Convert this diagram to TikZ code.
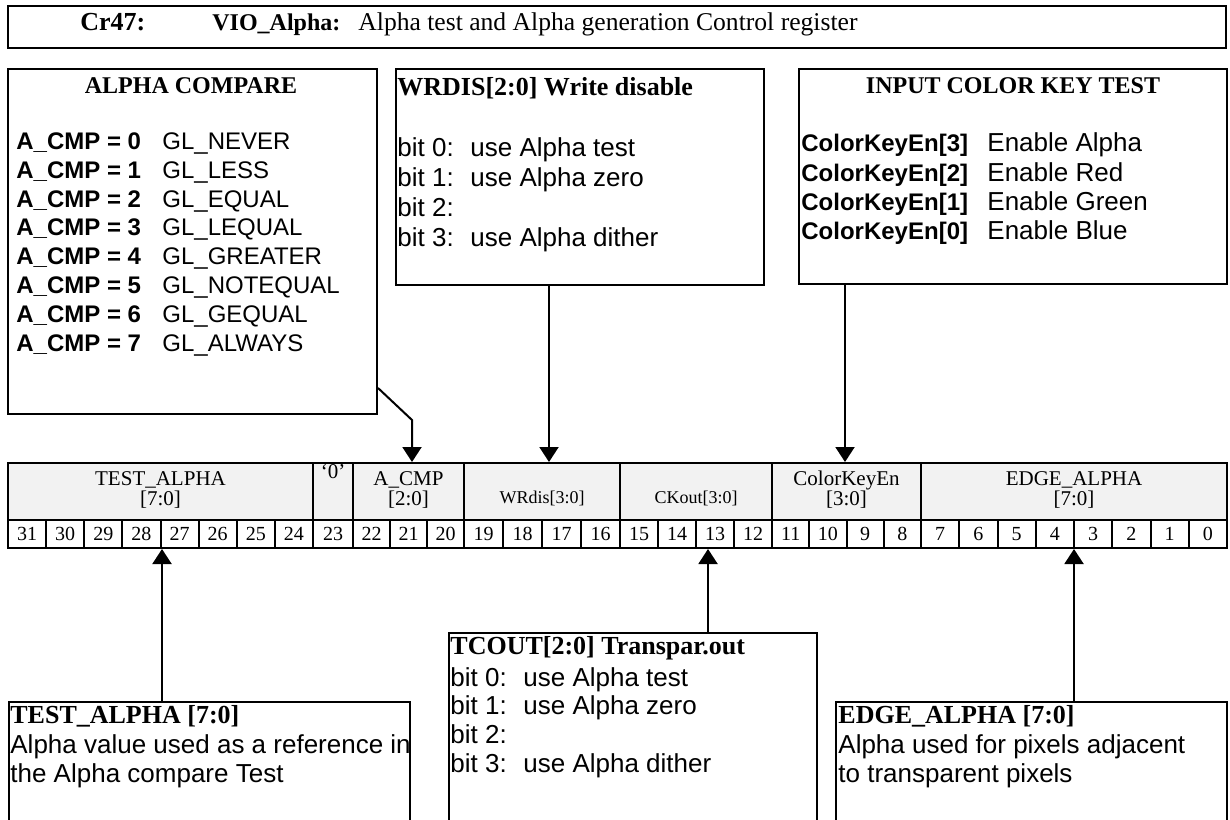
\documentclass[tikz,border=0pt]{standalone}
\usepackage{fontspec}
\setmainfont{Liberation Serif}
\newfontfamily\arialfont{Liberation Sans}
\usetikzlibrary{arrows.meta}
\definecolor{fieldgray}{RGB}{242,242,242}
\tikzset{
    box/.style={draw, line width=1pt, anchor=north west, inner sep=0pt},
    field/.style={box, fill=fieldgray, minimum height=28.5pt},
    bitcell/.style={box, minimum height=14pt, font=\fontsize{10}{12}\selectfont},
    txt/.style={anchor=base west, inner sep=0pt},
    ctxt/.style={anchor=base, inner sep=0pt},
    tbtwelve/.style={font=\bfseries\fontsize{12}{14}\selectfont},
    tbthirteen/.style={font=\bfseries\fontsize{13}{15}\selectfont},
    trthirteen/.style={font=\fontsize{12.8}{15}\selectfont},
    abtwelve/.style={font=\arialfont\bfseries\fontsize{12}{14}\selectfont},
    artwelve/.style={font=\arialfont\fontsize{12}{14}\selectfont},
    arthirteen/.style={font=\arialfont\fontsize{13}{15}\selectfont},
    flabel/.style={ctxt, font=\fontsize{10.5}{12}\selectfont},
    fsmall/.style={ctxt, font=\fontsize{9}{11}\selectfont},
    edge/.style={-{Triangle[width=9.5pt,length=7.5pt]}, line width=1pt}
}

\begin{document}
\begin{tikzpicture}[x=0.5pt, y=-0.5pt]
\path[use as bounding box, clip] (0,0) rectangle (1230,819);

% title bar
\node[box, minimum width=609pt, minimum height=21pt] (bar) at (7,5) {};
\node[txt, tbthirteen] (crname) at (80,31) {Cr47:};
\node[txt, tbtwelve] (crreg) at (212,31) {VIO\_Alpha:};
\node[txt, trthirteen] (crdesc) at (358,31) {Alpha test and Alpha generation Control register};

% upper boxes
\node[box, minimum width=184.5pt, minimum height=172.5pt] (cmp) at (7,68) {};
\node[ctxt, tbtwelve] (cmptitle) at (191,93) {ALPHA COMPARE};
\foreach \v/\n in {0/NEVER, 1/LESS, 2/EQUAL, 3/LEQUAL, 4/GREATER, 5/NOTEQUAL, 6/GEQUAL, 7/ALWAYS} {
    \node[txt, abtwelve] (cmpk\v) at (16,149.3+28.85*\v) {A\_CMP = \v};
    \node[txt, artwelve] (cmpv\v) at (162,149.3+28.85*\v) {GL\_\n};
}

\node[box, minimum width=184pt, minimum height=108pt] (wrd) at (395,68) {};
\node[txt, tbthirteen] (wrdtitle) at (397,95) {WRDIS[2:0] Write disable};
\foreach \v/\t in {0/use Alpha test, 1/use Alpha zero, 2/, 3/use Alpha dither} {
    \node[txt, arthirteen] (wrdk\v) at (397,156+30.2*\v) {bit \v:};
    \node[txt, arthirteen] (wrdv\v) at (470,156+30.2*\v) {\t};
}

\node[box, minimum width=214pt, minimum height=107.5pt] (ckt) at (798,68) {};
\node[ctxt, tbtwelve] (cktitle) at (1013,93) {INPUT COLOR KEY TEST};
\foreach \v/\t [count=\i from 0] in {3/Alpha, 2/Red, 1/Green, 0/Blue} {
    \node[txt, abtwelve] (cktk\v) at (801,151.7+29.4*\i) {ColorKeyEn[\v]};
    \node[txt, arthirteen] (cktv\v) at (987,151.7+29.4*\i) {Enable \t};
}

% register fields
\node[field, minimum width=152.5pt] (fta) at (7,462) {};
\node[field, minimum width=20pt] (fzero) at (312,462) {};
\node[field, minimum width=55.5pt] (facmp) at (352,462) {};
\node[field, minimum width=78pt] (fwr) at (463,462) {};
\node[field, minimum width=76pt] (fck) at (619,462) {};
\node[field, minimum width=74.5pt] (fkey) at (771,462) {};
\node[field, minimum width=153pt] (fedge) at (920,462) {};

\node[flabel] (lta) at (fta.center |- 0,485) {TEST\_ALPHA};
\node[flabel] (ltab) at (fta.center |- 0,505) {[7:0]};
\node[flabel] (lzero) at (fzero.center |- 0,478) {‘0’};
\node[flabel] (lacmp) at (facmp.center |- 0,485) {A\_CMP};
\node[flabel] (lacmpb) at (facmp.center |- 0,505) {[2:0]};
\node[fsmall] (lwr) at (fwr.center |- 0,503) {WRdis[3:0]};
\node[fsmall] (lck) at (fck.center |- 0,503) {CKout[3:0]};
\node[flabel] (lkey) at (fkey.center |- 0,485) {ColorKeyEn};
\node[flabel] (lkeyb) at (fkey.center |- 0,505) {[3:0]};
\node[flabel] (ledge) at (fedge.center |- 0,485) {EDGE\_ALPHA};
\node[flabel] (ledgeb) at (fedge.center |- 0,505) {[7:0]};

% bit numbers
\foreach \b/\l/\r in {31/7/45.1, 30/45.1/83.3, 29/83.3/121.4, 28/121.4/159.5,
    27/159.5/197.6, 26/197.6/235.8, 25/235.8/273.9, 24/273.9/312, 23/312/352,
    22/352/389, 21/389/426, 20/426/463, 19/463/502, 18/502/541, 17/541/580,
    16/580/619, 15/619/657, 14/657/695, 13/695/733, 12/733/771, 11/771/808.25,
    10/808.25/845.5, 9/845.5/882.75, 8/882.75/920, 7/920/958.25, 6/958.25/996.5,
    5/996.5/1034.75, 4/1034.75/1073, 3/1073/1111.25, 2/1111.25/1149.5,
    1/1149.5/1187.75, 0/1187.75/1226} {
    \node[bitcell, minimum width={(\r-\l)*0.5pt}] (b\b) at (\l,519) {\b};
}

% lower boxes
\node[box, minimum width=200.5pt, minimum height=70pt] (tabox) at (8,701) {};
\node[txt, tbthirteen] (tatitle) at (10,723) {TEST\_ALPHA [7:0]};
\node[txt, arthirteen] (tatext) at (10,753) {Alpha value used as a reference in};
\node[txt, arthirteen] (tatextb) at (10,782) {the Alpha compare Test};

\node[box, minimum width=184pt, minimum height=105pt] (tcbox) at (448,632) {};
\node[txt, tbthirteen] (tctitle) at (450,654) {TCOUT[2:0] Transpar.out};
\foreach \v/\t in {0/use Alpha test, 1/use Alpha zero, 2/, 3/use Alpha dither} {
    \node[txt, arthirteen] (tck\v) at (450,686+28.7*\v) {bit \v:};
    \node[txt, arthirteen] (tcv\v) at (523,686+28.7*\v) {\t};
}

\node[box, minimum width=195.5pt, minimum height=70pt] (edbox) at (835,701) {};
\node[txt, tbthirteen] (edtitle) at (838,723) {EDGE\_ALPHA [7:0]};
\node[txt, arthirteen] (edtext) at (838,753) {Alpha used for pixels adjacent};
\node[txt, arthirteen] (edtextb) at (838,782) {to transparent pixels};

% arrows
\coordinate (cmpbend) at (412,420);
\draw[edge] (cmp.east |- 0,388) -- (cmpbend) -- (cmpbend |- facmp.north);
\draw[edge] (549,0 |- wrd.south) -- (549,0 |- fwr.north);
\draw[edge] (845,0 |- ckt.south) -- (845,0 |- fkey.north);
\draw[edge] (162,0 |- tabox.north) -- (162,0 |- b27.south);
\draw[edge] (708,0 |- tcbox.north) -- (708,0 |- b13.south);
\draw[edge] (1074,0 |- edbox.north) -- (1074,0 |- b3.south);

\end{tikzpicture}
\end{document}
